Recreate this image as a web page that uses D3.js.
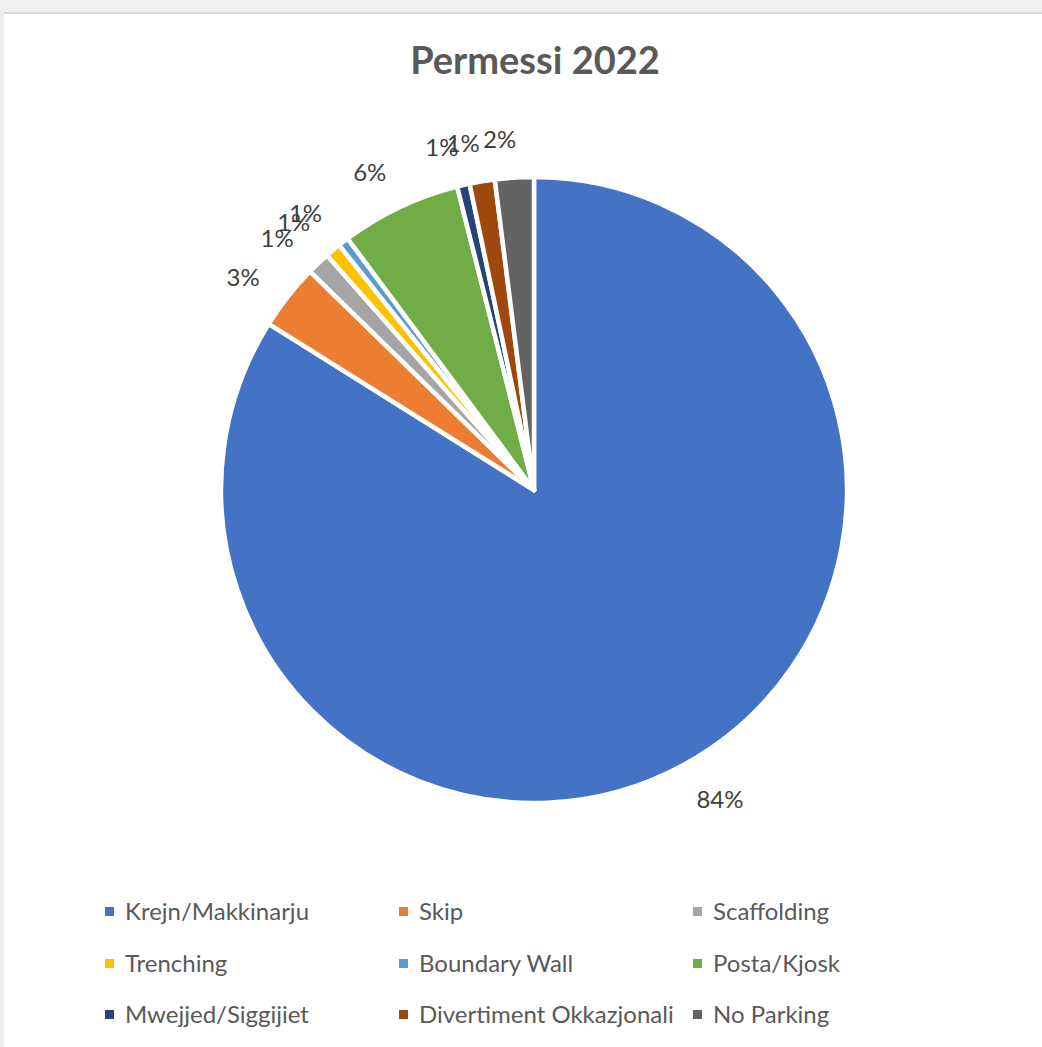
<!DOCTYPE html>
<html>
<head>
<meta charset="utf-8">
<script src="https://cdn.jsdelivr.net/npm/d3@7"></script>
<style>
  html, body { margin: 0; padding: 0; background: #fff; }
  svg { display: block; }
</style>
</head>
<body>
<div id="chart"></div>
<script>
// Pie chart: permits issued in 2022, share per permit type.

const CATEGORIES = [
  "Krejn/Makkinarju", "Skip", "Scaffolding",
  "Trenching", "Boundary Wall", "Posta/Kjosk",
  "Mwejjed/Siggijiet", "Divertiment Okkazjonali", "No Parking",
];
const SHARES = [83.9, 3.4, 1.2, 0.8, 0.55, 6.2, 0.65, 1.3, 2.0];
const COLORS = [
  "#4472c4", "#ed7d31", "#a5a5a5",
  "#ffc000", "#5b9bd5", "#70ad47",
  "#264478", "#9e480e", "#636363",
];
const TITLE = "Permessi 2022";

const W = 1042, H = 1047;
const FONT = "Lato, 'Open Sans', sans-serif";

const svg = d3.select("#chart").append("svg").attr("width", W).attr("height", H);

// screenshot frame
svg.append("rect").attr("x", 0).attr("y", 0).attr("width", W).attr("height", 12).attr("fill", "#f1f1f1");
svg.append("rect").attr("x", 0).attr("y", 12).attr("width", W).attr("height", 2).attr("fill", "#d6d6d6");
svg.append("rect").attr("x", 0).attr("y", 12).attr("width", 4).attr("height", H).attr("fill", "#ececec");

svg.append("text")
  .attr("x", 535).attr("y", 74).attr("text-anchor", "middle")
  .style("font-family", FONT).style("font-weight", "bold")
  .style("font-size", "38px").style("fill", "#595959")
  .text(TITLE);

// ── Pie ──────────────────────────────────────────────────────────────────────
const cx = 534, cy = 490, R = 313;
const total = d3.sum(SHARES);

const pie = d3.pie().sort(null).value(d => d);
const arcs = pie(SHARES);
const arcGen = d3.arc().innerRadius(0).outerRadius(R);

const g = svg.append("g").attr("transform", `translate(${cx},${cy})`);

g.selectAll("path.slice").data(arcs).join("path")
  .attr("class", "slice")
  .attr("d", arcGen)
  .attr("fill", (d, i) => COLORS[i])
  .attr("stroke", "#fff").attr("stroke-width", 4.5).attr("stroke-linejoin", "round");

// outside-end labels (the small ones overlap, as in the original)
const gap = 28, boxH = 20, angShift = -0.035;
arcs.forEach(a => {
  const t = g.append("text")
    .attr("text-anchor", "middle").attr("dy", "0.35em")
    .style("font-family", FONT).style("font-size", "24px").style("fill", "#404040")
    .text(Math.round(a.value / total * 100) + "%");
  const w = t.node().getBBox().width;
  const th = (a.startAngle + a.endAngle) / 2;
  const dist = R + gap + (w / 2) * Math.abs(Math.sin(th)) + (boxH / 2) * Math.abs(Math.cos(th));
  const ta = th + angShift;
  t.attr("x", dist * Math.sin(ta)).attr("y", -dist * Math.cos(ta));
});

// ── Legend ───────────────────────────────────────────────────────────────────
const colX = [105, 399, 693], rowY = [912, 964, 1015];
CATEGORIES.forEach((name, i) => {
  const x = colX[i % 3], y = rowY[Math.floor(i / 3)];
  svg.append("rect")
    .attr("x", x).attr("y", y - 5).attr("width", 9).attr("height", 9)
    .attr("fill", COLORS[i]);
  svg.append("text")
    .attr("x", x + 20).attr("y", y).attr("dy", "0.35em")
    .style("font-family", FONT).style("font-size", "24px").style("fill", "#595959")
    .text(name);
});
</script>
</body>
</html>
